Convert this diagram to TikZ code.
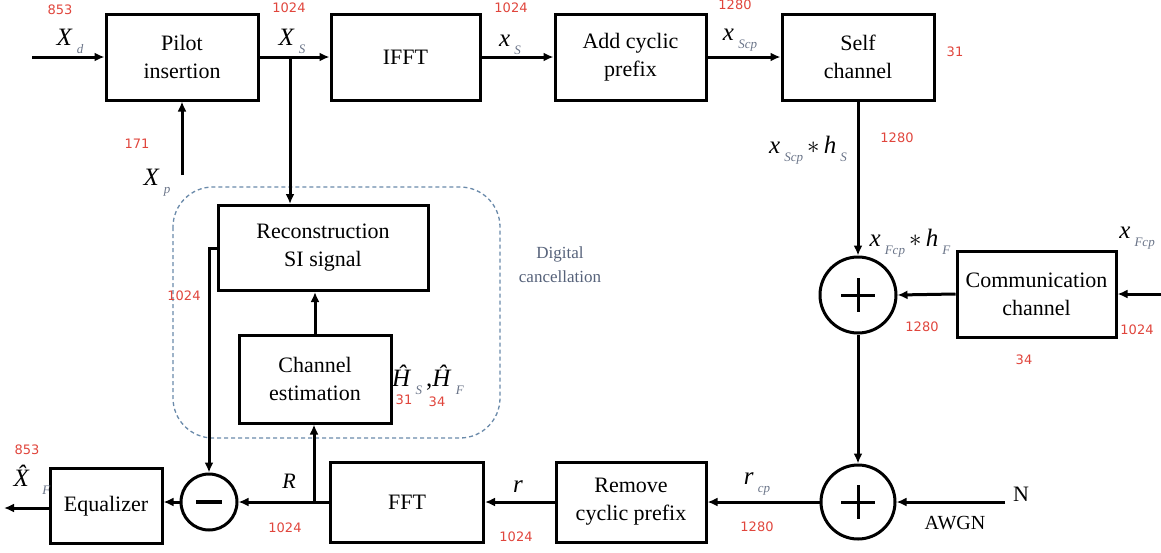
\documentclass[tikz,border=0pt]{standalone}
\usepackage{fontspec}
\setmainfont{Liberation Serif}
\newfontfamily\numfont{DejaVu Sans}
\usetikzlibrary{arrows.meta,calc}
\definecolor{numred}{HTML}{E0453C}
\definecolor{subgray}{HTML}{6A7488}
\definecolor{dashblue}{HTML}{6A8AAA}
\definecolor{dctext}{HTML}{56627A}
\newcommand\sv[2]{\textit{#1}\raisebox{-0.32em}{\,\fontsize{13}{13}\selectfont\color{subgray}\textit{#2}}}
\newcommand\boxfont{\fontsize{22}{28}\selectfont}
\begin{document}
\begin{tikzpicture}[x=1pt,y=-1pt,
  blk/.style={draw, line width=3pt, fill=white, align=center, font=\boxfont, inner sep=0pt},
  sumc/.style={draw, circle, line width=3pt, minimum size=#1, inner sep=0pt},
  arr/.style={line width=3pt, -{Latex[length=10pt,width=9pt]}},
  num/.style={text=numred, font=\numfont\fontsize{13}{13}\selectfont, inner sep=0pt},
  lab/.style={font=\fontsize{25}{25}\selectfont, inner sep=0pt},
  txt/.style={font=\fontsize{20}{24}\selectfont, inner sep=0pt, align=center}]
\useasboundingbox (0,0) rectangle (1161,552);

% digital cancellation region
\draw[dashed, dash pattern=on 4pt off 3pt, color=dashblue, line width=1.3pt, rounded corners=40pt] (173,187) rectangle (500,438);
\node[txt, text=dctext, font=\fontsize{17}{24}\selectfont] (dc) at (560,265) {Digital\\cancellation};

% top row
\node[blk, minimum width=152pt, minimum height=86pt] (pilot) at (182,57) {Pilot\\insertion};
\node[blk, minimum width=149pt, minimum height=86pt] (ifft) at (405.5,57) {IFFT};
\node[blk, minimum width=151pt, minimum height=86pt] (addcp) at (630.5,57) {Add cyclic\\prefix};
\node[blk, minimum width=152pt, minimum height=86pt] (self) at (858,57) {Self\\channel};

% right part
\node[sumc=76pt] (add1) at (858,295) {};
\node[lab] (lxfh) at (910,243) {\sv{x}{Fcp}\,$\ast$\,\sv{h}{F}};
\node[blk, minimum width=159pt, minimum height=86pt] (comm) at (1036.5,294) {Communication\\channel};
\node[sumc=74pt] (add2) at (858,502) {};

% bottom row
\node[blk, minimum width=150pt, minimum height=80pt] (recp) at (631,502) {Remove\\cyclic prefix};
\node[blk, minimum width=153pt, minimum height=80pt] (fft) at (407,502) {FFT};
\node[sumc=56pt] (minus) at (209,502) {};
\node[blk, minimum width=112pt, minimum height=75pt] (eq) at (106,506) {Equalizer};

% cancellation blocks
\node[blk, minimum width=210pt, minimum height=85pt] (recon) at (323,248) {Reconstruction\\SI signal};
\node[blk, minimum width=152pt, minimum height=88pt] (chest) at (315,379) {Channel\\estimation};

% plus / minus signs
\draw[line width=3pt] ($(add1)+(-17,0)$) -- ($(add1)+(17,0)$) ($(add1)+(0,-17)$) -- ($(add1)+(0,17)$);
\draw[line width=3pt] ($(add2)+(-17,0)$) -- ($(add2)+(17,0)$) ($(add2)+(0,-17)$) -- ($(add2)+(0,17)$);
\draw[line width=4pt] ($(minus)+(-13,0)$) -- ($(minus)+(13,0)$);

% coordinates
\coordinate (xdin) at (32,57);
\coordinate (xpin) at (182,175);
\coordinate (xsb) at (290,57);
\coordinate (xfin) at (1161,294);
\coordinate (nin) at (1005,502);
\coordinate (rb) at (314,502);
\coordinate (xout) at (4,508);

% connectors
\draw[arr] (xdin) -- (pilot.west);
\draw[arr] (xpin) -- (pilot.south);
\draw[arr] (pilot.east) -- (ifft.west);
\draw[arr] (xsb) -- (xsb |- recon.north);
\draw[arr] (ifft.east) -- (addcp.west);
\draw[arr] (addcp.east) -- (self.west);
\draw[arr] (self.south) -- (add1.north);
\draw[arr] (xfin) -- (comm.east);
\draw[arr] (comm.west) -- (add1.east);
\draw[arr] (add1.south) -- (add2.north);
\draw[arr] (nin) -- (add2.east);
\draw[arr] (add2.west) -- (recp.east);
\draw[arr] (recp.west) -- (fft.east);
\draw[arr] (fft.west) -- (minus.east);
\draw[arr] (rb) -- (rb |- chest.south);
\draw[arr] (chest.north) -- (chest.north |- recon.south);
\draw[arr] (recon.west) -| (minus.north);
\draw[arr] (minus.west) -- (minus.west -| eq.east);
\draw[arr] (eq.west |- xout) -- (xout);

% signal labels
\node[lab] (lxd) at (70,41) {\sv{X}{d}};
\node[lab] (lxs) at (292,41) {\sv{X}{S}};
\node[lab] (lxp) at (157,183) {\sv{X}{p}};
\node[lab] (lxsl) at (510,45) {\sv{x}{S}};
\node[lab] (lxscp) at (740,40) {\sv{x}{Scp}};
\node[lab] (lxsh) at (808,150) {\sv{x}{Scp}\,$\ast$\,\sv{h}{S}};
\node[lab] (lxf) at (1137,238) {\sv{x}{Fcp}};
\node[lab] (lhh) at (428,380) {\textit{\^{H}}\raisebox{-0.32em}{\,\fontsize{13}{13}\selectfont\color{subgray}\textit{S}}\,,\textit{\^{H}}\raisebox{-0.32em}{\,\fontsize{13}{13}\selectfont\color{subgray}\textit{F}}};
\node[lab] (lxh) at (32,480) {\textit{\^{X}}\raisebox{-0.32em}{\,\fontsize{13}{13}\selectfont\color{subgray}\textit{F}}};
\node[lab, font=\fontsize{22}{22}\selectfont] (lr) at (289,481) {\textit{R}};
\node[lab] (lrs) at (518,487) {\textit{r}};
\node[lab] (lrcp) at (757,484) {\sv{r}{cp}};
\node[txt] (lawgn) at (955,523) {AWGN};
\node[txt, font=\fontsize{22}{22}\selectfont] (ln) at (1021,494) {N};

% red numbers
\node[num] (n1) at (60,10) {853};
\node[num] (n2) at (289,8) {1024};
\node[num] (n3) at (137,144) {171};
\node[num] (n4) at (511,8) {1024};
\node[num] (n5) at (735,5) {1280};
\node[num] (n6) at (955,52) {31};
\node[num] (n7) at (897,138) {1280};
\node[num] (n8) at (922,327) {1280};
\node[num] (n9) at (1137,330) {1024};
\node[num] (n10) at (1024,360) {34};
\node[num] (n11) at (184,296) {1024};
\node[num] (n12) at (404,400) {31};
\node[num] (n13) at (437,402) {34};
\node[num] (n14) at (27,450) {853};
\node[num] (n15) at (285,528) {1024};
\node[num] (n16) at (516,537) {1024};
\node[num] (n17) at (757,527) {1280};
\end{tikzpicture}
\end{document}
